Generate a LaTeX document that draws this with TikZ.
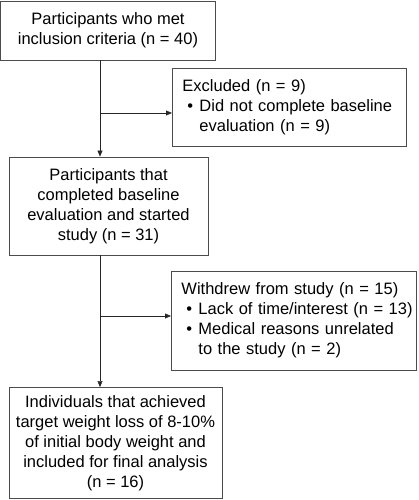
\documentclass[tikz,border=0pt]{standalone}
\usepackage{fontspec}
\setmainfont{Liberation Sans}
\usetikzlibrary{arrows.meta}
\newcommand{\bitem}{\makebox[17pt][l]{\hspace*{5pt}\textbullet}}
\newcommand{\bcont}{\hspace*{17pt}}
\begin{document}
\begin{tikzpicture}[x=1pt, y=-1pt, ->, >={Triangle[length=6pt,width=5pt]},
  main box/.style={draw=black!70, line width=0.9pt, inner sep=0pt, align=center},
  side box/.style={draw=black!70, line width=0.9pt, inner xsep=10pt, inner ysep=0pt, align=left, anchor=west}]
  \tikzstyle{every node}=[font=\fontsize{16.5}{20}\selectfont]
  \useasboundingbox (0,0) rectangle (418,500);

  \node[main box, minimum width=215pt, minimum height=59pt] (met) at (108,30.5) {Participants who met\\inclusion criteria (n = 40)};
  \node[main box, minimum width=199pt, minimum height=98pt] (started) at (108.5,206) {Participants that\\completed baseline\\evaluation and started\\study (n = 31)};
  \node[main box, minimum width=213pt, minimum height=111pt] (final) at (115.5,443) {Individuals that achieved\\target weight loss of 8-10\%\\of initial body weight and\\included for final analysis\\(n = 16)};

  \node[side box, text width=214pt, minimum height=78pt] (excl) at (172,107) {Excluded (n = 9)\\\mbox{\bitem Did not complete baseline}\\\bcont evaluation (n = 9)};
  \node[side box, text width=225pt, minimum height=99pt] (withdrew) at (171,320.5) {Withdrew from study (n = 15)\\\mbox{\bitem Lack of time/interest (n = 13)}\\\mbox{\bitem Medical reasons unrelated}\\\bcont to the study (n = 2)};

  \coordinate (j1) at (100,113);
  \coordinate (j2) at (100,316);

  \draw[black!85] (met.south -| j1) -- (started.north -| j1);
  \draw[black!85] (j1) -- (excl.west |- j1);
  \draw[black!85] (started.south -| j2) -- (final.north -| j2);
  \draw[black!85] (j2) -- (withdrew.west |- j2);
\end{tikzpicture}
\end{document}
